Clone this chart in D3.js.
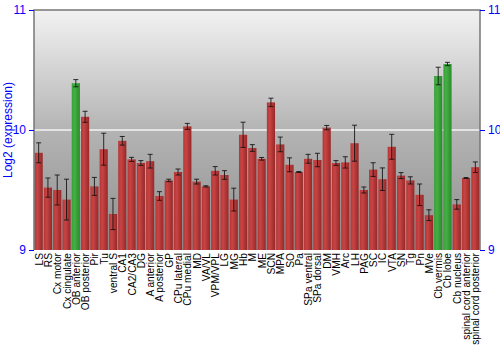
<!DOCTYPE html>
<html>
<head>
<meta charset="utf-8">
<script src="https://cdn.jsdelivr.net/npm/d3@7"></script>
<style>
  body { margin: 0; background: #fff; }
  svg { display: block; font-family: 'Liberation Sans', Arial, sans-serif; }
</style>
</head>
<body>
<script>
const regions = ['LS', 'RS', 'Cx motor', 'Cx cingulate', 'OB anterior', 'OB posterior', 'Pir', 'Tu',
  'ventral S', 'CA1', 'CA2/CA3', 'DG', 'A anterior', 'A posterior', 'GP', 'CPu lateral', 'CPu medial',
  'MD', 'VA/VL', 'VPM/VPL', 'LG', 'MG', 'Hb', 'M', 'ME', 'SCN', 'MPA', 'SO', 'Pa', 'SPa ventral',
  'SPa dorsal', 'DM', 'VMH', 'Arc', 'LH', 'PAG', 'SC', 'IC', 'VTA', 'SN', 'Tg', 'Pn', 'MVe',
  'Cb vermis', 'Cb lobe', 'Cb nucleus', 'spinal cord anterior', 'spinal cord posterior'];
const values = [9.81, 9.52, 9.50, 9.42, 10.39, 10.11, 9.53, 9.84, 9.30, 9.91, 9.755, 9.725, 9.74, 9.45,
  9.58, 9.65, 10.03, 9.57, 9.53, 9.66, 9.625, 9.42, 9.96, 9.85, 9.76, 10.23, 9.88, 9.71, 9.65, 9.76,
  9.75, 10.02, 9.725, 9.73, 9.89, 9.50, 9.67, 9.59, 9.86, 9.62, 9.58, 9.46, 9.29, 10.45, 10.55, 9.38,
  9.60, 9.69];
const errors = [0.083, 0.08, 0.125, 0.17, 0.03, 0.046, 0.075, 0.133, 0.13, 0.036, 0.017, 0.02, 0.057,
  0.036, 0.01, 0.025, 0.025, 0.02, 0.005, 0.035, 0.036, 0.095, 0.105, 0.028, 0.011, 0.035, 0.061,
  0.058, 0.004, 0.037, 0.056, 0.018, 0.02, 0.047, 0.15, 0.025, 0.057, 0.094, 0.104, 0.025, 0.03,
  0.09, 0.045, 0.073, 0.014, 0.04, 0.004, 0.044];
const highlighted = ['OB anterior', 'Cb vermis', 'Cb lobe'];
const yTicks = [9, 10, 11];

const width = 500;
const height = 350;
const margin = { top: 10, right: 20, bottom: 100, left: 34 };
const innerW = width - margin.left - margin.right;
const innerH = height - margin.top - margin.bottom;

const svg = d3.select('body')
  .append('svg')
  .attr('width', width)
  .attr('height', height);

const defs = svg.append('defs');

const bg = defs.append('linearGradient')
  .attr('id', 'bg')
  .attr('x1', 0).attr('y1', 0).attr('x2', 0).attr('y2', 1);
bg.append('stop').attr('offset', '0%').attr('stop-color', '#f2f2f2');
bg.append('stop').attr('offset', '50%').attr('stop-color', '#b4b4b4');
bg.append('stop').attr('offset', '100%').attr('stop-color', '#8e8e8e');

function barGradient(id, light, mid, dark) {
  const g = defs.append('linearGradient')
    .attr('id', id)
    .attr('x1', 0).attr('y1', 0).attr('x2', 1).attr('y2', 0);
  g.append('stop').attr('offset', '0%').attr('stop-color', mid);
  g.append('stop').attr('offset', '35%').attr('stop-color', light);
  g.append('stop').attr('offset', '100%').attr('stop-color', dark);
}
barGradient('red', '#c84444', '#b53636', '#962828');
barGradient('green', '#44b044', '#38a038', '#2a8a2a');

const x = d3.scaleBand()
  .domain(regions)
  .range([0, innerW])
  .paddingInner(0.12)
  .paddingOuter(0.06);

const y = d3.scaleLinear()
  .domain([9, 11])
  .range([innerH, 0]);

const g = svg.append('g')
  .attr('transform', `translate(${margin.left}, ${margin.top})`);

g.append('rect')
  .attr('width', innerW)
  .attr('height', innerH)
  .attr('fill', 'url(#bg)');

g.append('line')
  .attr('x1', 0).attr('x2', innerW)
  .attr('y1', y(10)).attr('y2', y(10))
  .attr('stroke', '#f4f4f4')
  .attr('stroke-width', 1.5);

const data = regions.map((r, i) => ({ name: r, value: values[i], err: errors[i] }));

g.selectAll('.bar')
  .data(data)
  .enter()
  .append('rect')
  .attr('class', 'bar')
  .attr('x', d => x(d.name))
  .attr('y', d => y(d.value))
  .attr('width', x.bandwidth())
  .attr('height', d => innerH - y(d.value))
  .attr('fill', d => (highlighted.includes(d.name) ? 'url(#green)' : 'url(#red)'));

const err = g.selectAll('.err')
  .data(data)
  .enter()
  .append('g')
  .attr('class', 'err')
  .attr('stroke', '#111')
  .attr('stroke-opacity', 0.85)
  .attr('stroke-width', 1);

err.append('line')
  .attr('x1', d => x(d.name) + x.bandwidth() / 2)
  .attr('x2', d => x(d.name) + x.bandwidth() / 2)
  .attr('y1', d => y(d.value + d.err))
  .attr('y2', d => y(d.value - d.err));
err.append('line')
  .attr('x1', d => x(d.name) + x.bandwidth() / 2 - 2.5)
  .attr('x2', d => x(d.name) + x.bandwidth() / 2 + 2.5)
  .attr('y1', d => y(d.value + d.err))
  .attr('y2', d => y(d.value + d.err));
err.append('line')
  .attr('x1', d => x(d.name) + x.bandwidth() / 2 - 2.5)
  .attr('x2', d => x(d.name) + x.bandwidth() / 2 + 2.5)
  .attr('y1', d => y(d.value - d.err))
  .attr('y2', d => y(d.value - d.err));

// frame: left, top, right
g.append('path')
  .attr('d', `M0,${innerH}V0H${innerW}V${innerH}`)
  .attr('fill', 'none')
  .attr('stroke', '#777')
  .attr('stroke-width', 1.5);

const yAxisL = d3.axisLeft(y).tickValues(yTicks).tickSize(5).tickFormat(d3.format('d'));
const yAxisR = d3.axisRight(y).tickValues(yTicks).tickSize(5).tickFormat(d3.format('d'));

[g.append('g').call(yAxisL), g.append('g').attr('transform', `translate(${innerW}, 0)`).call(yAxisR)]
  .forEach(ax => {
    ax.select('.domain').remove();
    ax.selectAll('line').attr('stroke', '#00f');
    ax.selectAll('text')
      .attr('fill', '#00f')
      .style('font-size', '12px')
      .style('font-family', "'Liberation Sans', Arial, sans-serif");
  });

g.append('g')
  .attr('class', 'x-labels')
  .selectAll('text')
  .data(regions)
  .enter()
  .append('text')
  .attr('transform', d => `translate(${x(d) + x.bandwidth() / 2 + 4}, ${innerH + 3}) rotate(-90)`)
  .attr('text-anchor', 'end')
  .attr('fill', '#000')
  .style('font-size', '10.2px')
  .text(d => d);

svg.append('text')
  .attr('transform', `translate(12, ${margin.top + innerH / 2}) rotate(-90)`)
  .attr('text-anchor', 'middle')
  .attr('fill', '#00f')
  .style('font-size', '12px')
  .text('Log2 (expression)');
</script>
</body>
</html>
